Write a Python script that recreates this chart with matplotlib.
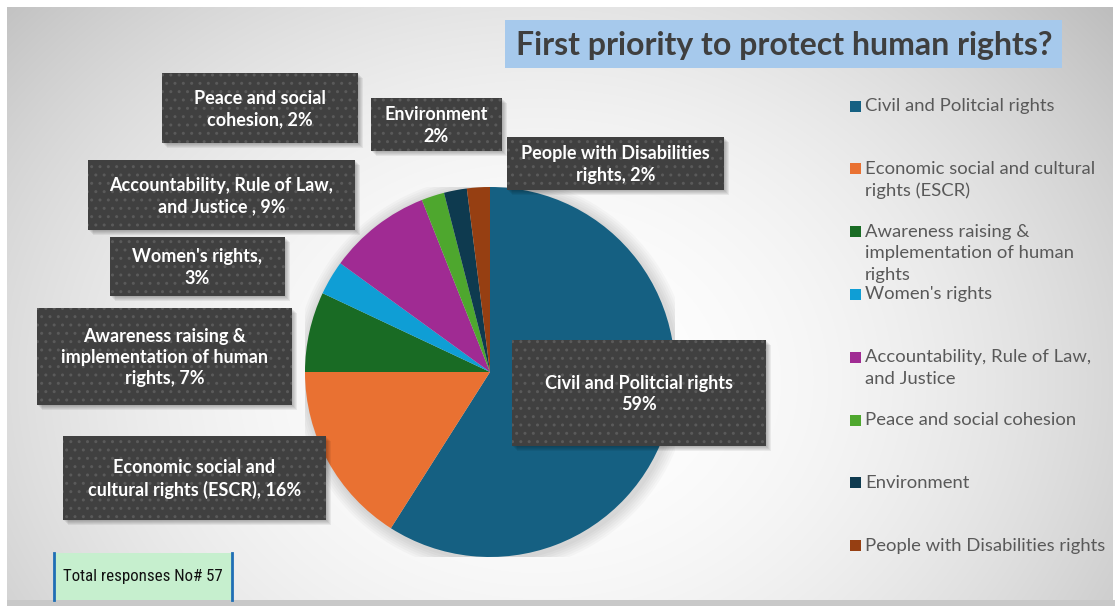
import numpy as np
import matplotlib.pyplot as plt
from matplotlib.patches import Rectangle, Circle
from matplotlib import font_manager

plt.rcParams['font.family'] = ['Lato', 'DejaVu Sans']

# survey data
categories = ["Civil and Politcial rights",
              "Economic social and cultural rights (ESCR)",
              "Awareness raising & implementation of human rights",
              "Women's rights",
              "Accountability, Rule of Law, and Justice",
              "Peace and social cohesion",
              "Environment",
              "People with Disabilities rights"]
shares = [59, 16, 7, 3, 9, 2, 2, 2]
colors = ["#156082", "#E97132", "#196B24", "#0F9ED5",
          "#A02B93", "#4EA72E", "#0E3A4F", "#963F12"]
legend_labels = ["Civil and Politcial rights",
                 "Economic social and cultural\nrights (ESCR)",
                 "Awareness raising &\nimplementation of human\nrights",
                 "Women's rights",
                 "Accountability, Rule of Law,\nand Justice",
                 "Peace and social cohesion",
                 "Environment",
                 "People with Disabilities rights"]
label_fmt = ["Civil and Politcial rights\n{}%",
             "Economic social and\ncultural rights (ESCR), {}%",
             "Awareness raising &\nimplementation of human\nrights, {}%",
             "Women's rights,\n{}%",
             "Accountability, Rule of Law,\nand Justice , {}%",
             "Peace and social\ncohesion, {}%",
             "Environment\n{}%",
             "People with Disabilities\nrights, {}%"]
title = "First priority to protect human rights?"
total_responses = 57

# pick a narrow face for the response count if one exists
installed = {f.name for f in font_manager.fontManager.ttflist}
narrow = [f for f in ['Liberation Sans Narrow', 'DejaVu Sans Condensed',
                      'Roboto Condensed'] if f in installed] or ['Roboto']

W, H = 1118, 608
fig = plt.figure(figsize=(W / 100, H / 100), dpi=100)

# --- background with radial gradient ---
bg = fig.add_axes([0, 0, 1, 1], zorder=0)
yy, xx = np.mgrid[7:600, 7:1113]
d2 = ((xx - 540) / 650.0) ** 2 + ((yy - 380) / 520.0) ** 2
shade = np.clip(1.0 - 0.2 * d2, 0.74, 1.0)
bg.imshow(np.dstack([shade] * 3), extent=(7, 1113, 600, 7), aspect='auto')
bg.add_patch(Rectangle((7, 600), 1108, 6, color='#c8c8c8', lw=0))
bg.set_xlim(0, W)
bg.set_ylim(H, 0)
bg.axis('off')

# --- pie ---
cx, cy, r = 490, 372, 185
pax = fig.add_axes([(cx - r) / W, (H - cy - r) / H, 2 * r / W, 2 * r / H], zorder=1)
for k in range(6):
    pax.add_patch(Circle((0.012, -0.012), 1.0 + 0.012 * (k + 1),
                         color='black', alpha=0.025, lw=0))
pax.pie(shares, colors=colors, startangle=90, counterclock=False,
        radius=1, wedgeprops=dict(linewidth=0))
pax.set_xlim(-1, 1)
pax.set_ylim(-1, 1)
pax.axis('off')

# --- overlay: title, data labels, legend ---
ov = fig.add_axes([0, 0, 1, 1], zorder=3)
ov.set_xlim(0, W)
ov.set_ylim(H, 0)
ov.axis('off')

ov.add_patch(Rectangle((505, 20), 557, 48, facecolor='#a6c9ec', lw=0))
ov.text(784, 45, title, ha='center', va='center', fontsize=23,
        fontweight='bold', color='#3f3f3f')

# data label boxes (x, y, w, h)
boxes = [(512, 340, 254, 106), (63, 436, 263, 84), (37, 308, 255, 97),
         (110, 237, 175, 59), (88, 160, 267, 70), (162, 73, 196, 70),
         (371, 98, 131, 53), (507, 137, 217, 53)]
for (x, y, w, h), fmt, v in zip(boxes, label_fmt, shares):
    for k in range(5):
        ov.add_patch(Rectangle((x + 1 + k, y + 1 + k), w, h, facecolor='black',
                               alpha=0.06, lw=0))
    ov.add_patch(Rectangle((x, y), w, h, facecolor='#404040',
                           edgecolor='#5a5a5a', hatch='..', lw=0))
    ov.text(x + w / 2, y + h / 2 + 1, fmt.format(v), ha='center', va='center',
            fontsize=13, fontweight='bold', color='white', linespacing=1.3)

# legend
for i, (lab, c) in enumerate(zip(legend_labels, colors)):
    ly = 106 + 62.8 * i
    ov.add_patch(Rectangle((850, ly - 5.5), 11, 11, facecolor=c, lw=0))
    ov.text(865, ly - 8, lab, ha='left', va='top', fontsize=13.3,
            color='#595959', linespacing=1.45)

# response count
ov.add_patch(Rectangle((54, 553), 178, 47, facecolor='#c6efce', lw=0))
ov.plot([54, 54], [553, 600], color='#1f6fb5', lw=2)
ov.plot([232, 232], [553, 600], color='#1f6fb5', lw=2)
ov.text(143, 577, f"Total responses No# {total_responses}", ha='center',
        va='center', fontsize=12.2, color='#111111', family=narrow,
        fontstretch='condensed')

fig.savefig('out.png', dpi=100)
